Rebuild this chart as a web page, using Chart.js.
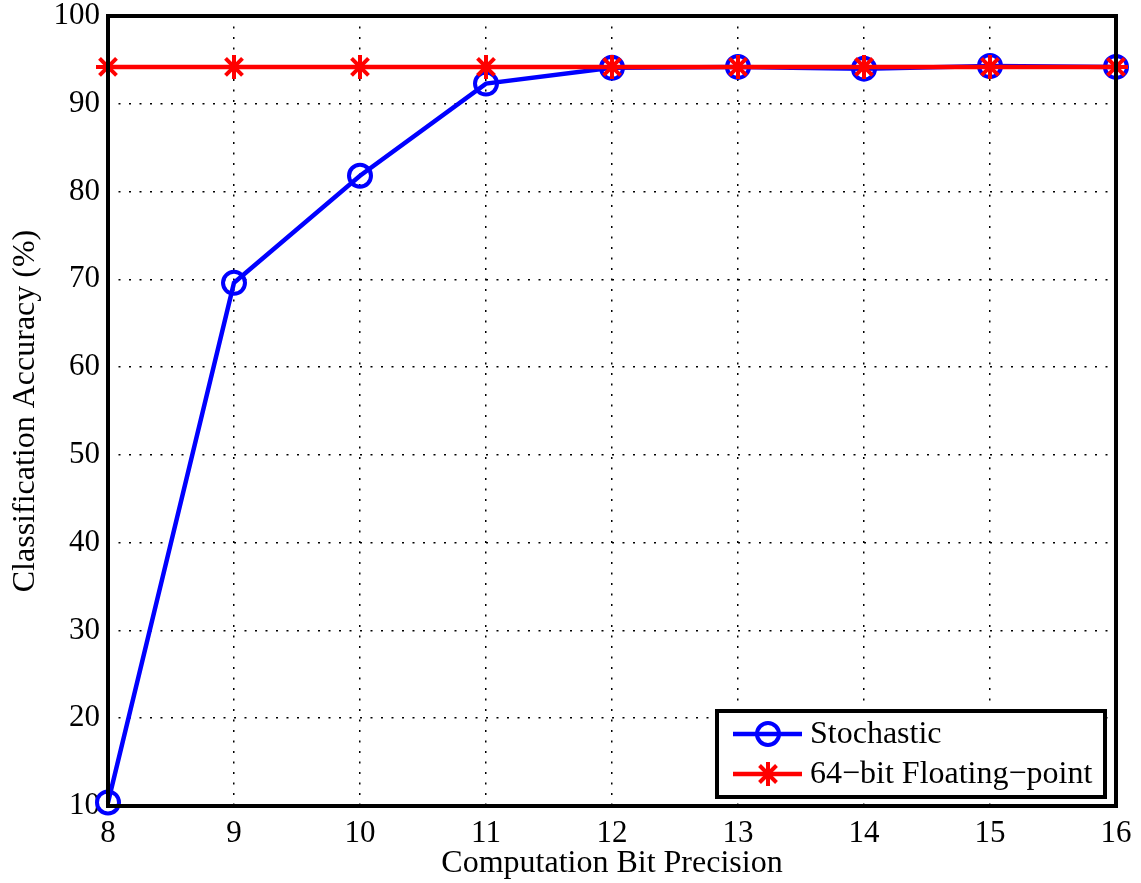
<!DOCTYPE html>
<html>
<head>
<meta charset="utf-8">
<script src="https://cdn.jsdelivr.net/npm/chart.js@4.4.1/dist/chart.umd.min.js"></script>
<style>
html,body{margin:0;padding:0;background:#fff;}
#wrap{width:1141px;height:883px;position:relative;}
</style>
</head>
<body>
<div id="wrap"><canvas id="c" width="1141" height="883"></canvas></div>
<script>
const bits = [8, 9, 10, 11, 12, 13, 14, 15, 16];
const stochastic = [10.4, 69.6, 81.8, 92.3, 94.1, 94.2, 94.0, 94.3, 94.2];
const floating = [94.2, 94.2, 94.2, 94.2, 94.2, 94.2, 94.2, 94.2, 94.2];
const xTicks = [8, 9, 10, 11, 12, 13, 14, 15, 16];
const yTicks = [10, 20, 30, 40, 50, 60, 70, 80, 90, 100];
const seriesNames = ['Stochastic', '64\u2212bit Floating\u2212point'];

const FONT = "'Liberation Serif', 'DejaVu Serif', serif";

const framePlugin = {
  id: 'frame',
  afterDraw(chart) {
    const ctx = chart.ctx, a = chart.chartArea;
    ctx.save();
    ctx.strokeStyle = '#000';
    ctx.lineWidth = 4;
    ctx.strokeRect(a.left, a.top, a.right - a.left, a.bottom - a.top);
    ctx.restore();
  }
};

const legendPlugin = {
  id: 'customLegend',
  afterDraw(chart) {
    const ctx = chart.ctx;
    const x0 = 717, y0 = 711, w = 388, h = 86;
    ctx.save();
    ctx.fillStyle = '#fff';
    ctx.fillRect(x0, y0, w, h);
    ctx.strokeStyle = '#000';
    ctx.lineWidth = 4;
    ctx.strokeRect(x0, y0, w, h);
    const rows = [734, 774];
    chart.data.datasets.slice().sort((p, q) => p.legendIndex - q.legendIndex).forEach((ds, i) => {
      const y = rows[i];
      ctx.strokeStyle = ds.borderColor;
      ctx.lineWidth = ds.borderWidth;
      ctx.beginPath();
      ctx.moveTo(733, y);
      ctx.lineTo(802, y);
      ctx.stroke();
      ctx.lineWidth = ds.pointBorderWidth;
      if (ds.pointStyle === 'circle') {
        ctx.beginPath();
        ctx.arc(768, y, ds.pointRadius, 0, Math.PI * 2);
        ctx.stroke();
      } else {
        const r = ds.pointRadius;
        ctx.beginPath();
        for (let k = 0; k < 4; k++) {
          const ang = k * Math.PI / 4;
          ctx.moveTo(768 - r * Math.cos(ang), y - r * Math.sin(ang));
          ctx.lineTo(768 + r * Math.cos(ang), y + r * Math.sin(ang));
        }
        ctx.stroke();
      }
      ctx.fillStyle = '#000';
      ctx.font = '32px ' + FONT;
      ctx.textBaseline = 'middle';
      ctx.textAlign = 'left';
      ctx.fillText(ds.label, 810, y + 1);
    });
    ctx.restore();
  }
};

new Chart(document.getElementById('c'), {
  type: 'line',
  data: {
    datasets: [
      {
        label: seriesNames[0],
        legendIndex: 0,
        data: bits.map((b, i) => ({x: b, y: stochastic[i]})),
        borderColor: '#0000ff',
        backgroundColor: 'rgba(0,0,0,0)',
        borderWidth: 4.5,
        pointStyle: 'circle',
        pointRadius: 11,
        pointBorderWidth: 4,
        pointBackgroundColor: 'rgba(0,0,0,0)',
        pointBorderColor: '#0000ff',
        tension: 0,
        clip: false,
        order: 1
      },
      {
        label: seriesNames[1],
        legendIndex: 1,
        data: bits.map((b, i) => ({x: b, y: floating[i]})),
        borderColor: '#ff0000',
        backgroundColor: 'rgba(0,0,0,0)',
        borderWidth: 4.5,
        pointStyle: 'star',
        pointRadius: 12,
        pointBorderWidth: 4,
        pointBackgroundColor: '#ff0000',
        pointBorderColor: '#ff0000',
        tension: 0,
        clip: false,
        order: 0
      }
    ]
  },
  options: {
    responsive: false,
    animation: false,
    layout: {padding: {left: 0, top: 14, right: 25, bottom: 0}},
    plugins: {legend: {display: false}, tooltip: {enabled: false}},
    scales: {
      x: {
        type: 'linear',
        min: 8, max: 16,
        afterBuildTicks(scale) { scale.ticks = xTicks.map(v => ({value: v})); },
        afterFit(scale) { scale.height = 77; scale.paddingLeft = 0; scale.paddingRight = 0; },
        ticks: {color: '#000', font: {family: FONT, size: 31}, padding: 9, maxRotation: 0,
                callback: v => String(v)},
        grid: {color: '#000', lineWidth: 1.5, drawTicks: false},
        border: {display: false, dash: [2, 8.5]},
        title: {display: true, text: 'Computation Bit Precision', color: '#000',
                font: {family: FONT, size: 32}, padding: {top: 0, bottom: 0}}
      },
      y: {
        type: 'linear',
        min: 10, max: 100,
        afterBuildTicks(scale) { scale.ticks = yTicks.map(v => ({value: v})); },
        afterFit(scale) { scale.width = 108; scale.paddingTop = 0; scale.paddingBottom = 0; },
        ticks: {color: '#000', font: {family: FONT, size: 31}, padding: 8,
                callback: v => String(v)},
        grid: {color: '#000', lineWidth: 1.5, drawTicks: false},
        border: {display: false, dash: [2, 8.5]},
        title: {display: true, text: 'Classification Accuracy (%)', color: '#000',
                font: {family: FONT, size: 32}, padding: {top: 6, bottom: 0}}
      }
    }
  },
  plugins: [framePlugin, legendPlugin]
});
</script>
</body>
</html>
